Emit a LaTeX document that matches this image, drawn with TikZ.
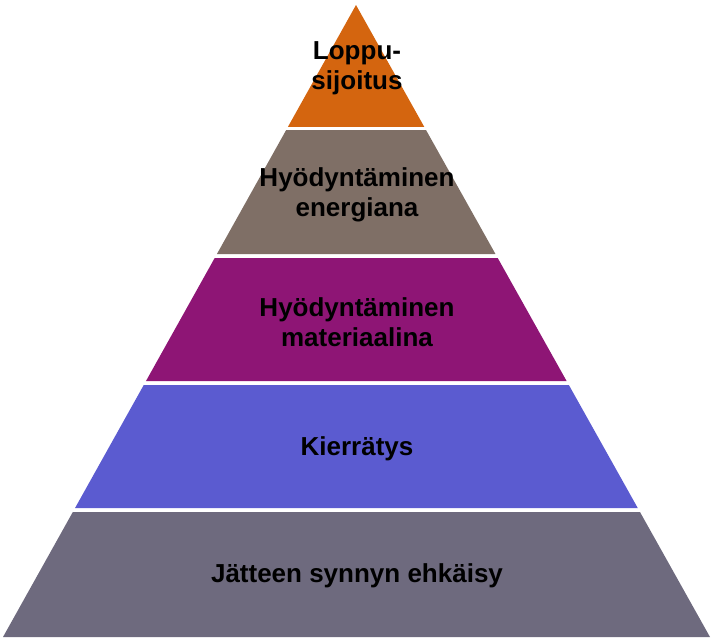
\documentclass[tikz,border=0pt]{standalone}
\usepackage{fontspec}
\setmainfont{Liberation Sans}
\usetikzlibrary{calc}
\definecolor{cOrange}{RGB}{212,101,15}
\definecolor{cTaupe}{RGB}{127,111,102}
\definecolor{cPurple}{RGB}{142,21,117}
\definecolor{cBlue}{RGB}{91,91,208}
\definecolor{cGrey}{RGB}{110,106,126}
\begin{document}
\begin{tikzpicture}[x=1pt,y=-1pt,
  label/.style={font=\fontsize{26}{30}\selectfont\bfseries,align=center,text=black}]
\useasboundingbox (0,0) rectangle (714,641);
\coordinate (apex) at (356,5);
\coordinate (bl) at (3,637);
\coordinate (br) at (710,637);
% layers: top y, bottom y, colour
\foreach \ya/\yb/\col in {5/127/cOrange,130/254/cTaupe,258/381/cPurple,385/508/cBlue,512/637/cGrey}{
  \pgfmathsetmacro{\ta}{(\ya-5)/632}
  \pgfmathsetmacro{\tb}{(\yb-5)/632}
  \fill[\col] ($(apex)!\ta!(bl)$) -- ($(apex)!\ta!(br)$) -- ($(apex)!\tb!(br)$) -- ($(apex)!\tb!(bl)$) -- cycle;
}
% labels
\node[label] (t1) at (357,68) {Loppu-\\sijoitus};
\node[label] (t2) at (357,195) {Hyödyntäminen\\energiana};
\node[label] (t3) at (357,322) {Hyödyntäminen\\materiaalina};
\node[label] (t4) at (357,449) {Kierrätys};
\node[label] (t5) at (357,576) {Jätteen synnyn ehkäisy};
\end{tikzpicture}
\end{document}
